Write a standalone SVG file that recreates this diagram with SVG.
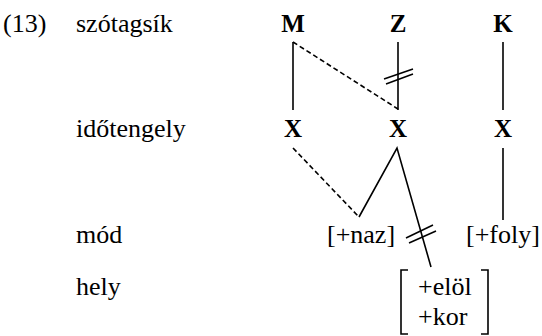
<svg xmlns="http://www.w3.org/2000/svg" width="542" height="336" viewBox="0 0 542 336">
<style>
text{font-family:"Liberation Serif","Times New Roman",serif;font-size:26px;fill:#000}
.b{font-weight:bold;text-anchor:middle;font-size:25px}
.s{stroke:#000;stroke-width:1.6;fill:none}
.d{stroke:#000;stroke-width:1.6;fill:none;stroke-dasharray:5 3}
</style>
<rect width="542" height="336" fill="#fff"/>
<g id="labels">
<text x="3" y="32">(13)</text>
<text x="76" y="32">szótagsík</text>
<text x="76" y="137">időtengely</text>
<text x="76" y="243">mód</text>
<text x="76" y="295">hely</text>
</g>
<g id="M"><text class="b" x="293" y="32">M</text></g>
<g id="Z"><text class="b" x="398" y="32">Z</text></g>
<g id="K"><text class="b" x="503" y="32">K</text></g>
<g id="X1"><text class="b" x="293" y="137">X</text></g>
<g id="X2"><text class="b" x="398" y="137">X</text></g>
<g id="X3"><text class="b" x="503" y="137">X</text></g>
<g id="naz"><text x="327" y="243">[+naz]</text></g>
<g id="foly"><text x="466" y="243">[+foly]</text></g>
<g id="hely-matrix">
<text x="418" y="295">+elöl</text>
<text x="418" y="325">+kor</text>
<path class="s" d="M408,270 H401 V334 H408 M481,270 H488 V334 H481"/>
</g>
<g id="connectors">
<line class="s" x1="293" y1="42" x2="293" y2="110"/>
<line class="s" x1="398" y1="42" x2="398" y2="110"/>
<line class="d" x1="293" y1="42" x2="398" y2="109"/>
<line class="s" x1="384" y1="79" x2="413" y2="69"/>
<line class="s" x1="386" y1="84" x2="413" y2="74"/>
<line class="s" x1="503" y1="42" x2="503" y2="110"/>
<line class="d" x1="293" y1="148" x2="359" y2="217"/>
<polyline class="s" points="359,217 397,148 431,267"/>
<line class="s" x1="406" y1="238" x2="433" y2="225"/>
<line class="s" x1="409" y1="243" x2="436" y2="231"/>
<line class="s" x1="503" y1="148" x2="503" y2="220"/>
</g>
</svg>
